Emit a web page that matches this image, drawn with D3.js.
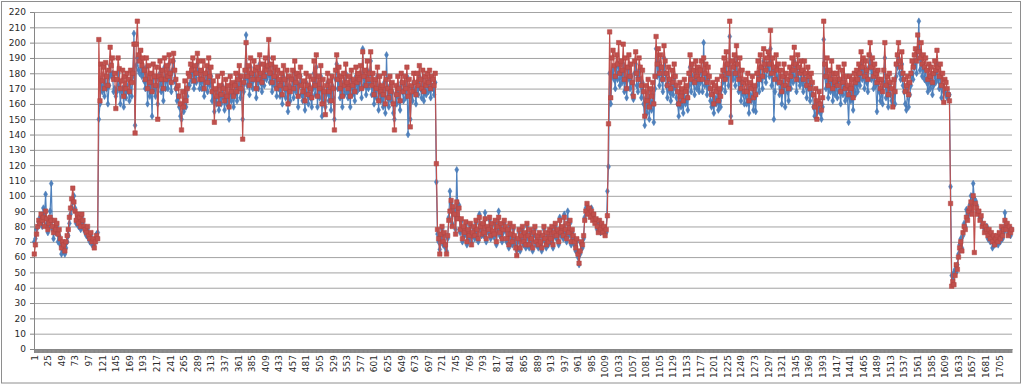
<!DOCTYPE html>
<html><head><meta charset="utf-8">
<script src="https://cdn.jsdelivr.net/npm/d3@7"></script>
<style>body{margin:0;background:#fff}svg{display:block}</style>
</head><body><svg id="c" width="1024" height="385"></svg>
<script>
// ---- data ----
const N_CATEGORIES = 1727;          // categories are 1..1727
const categories = d3.range(1, N_CATEGORIES + 1);
const sampleStep = 2;               // series values read at categories 1,3,5,...
const yTicks = d3.range(0, 221, 10);
const xLabelCats = categories.filter(c => (c - 1) % 24 === 0);

const blue = [
70,72,78,80,83,86,85,80,92,88,101,82,76,80,90,108,78,72,80,76,80,70,74,68,62,66,64,62,66,70,74,82,88,92,96,100,92,82,86,80,84,78,86,82,78,76,74,78,72,70,74,68,70,68,72,75,76,
150,160,176,168,172,165,178,170,160,172,185,178,180,168,170,165,168,180,172,160,168,170,158,172,164,172,168,162,175,165,
178,206,146,185,190,182,180,188,178,184,175,170,184,160,176,165,172,152,178,170,165,176,160,172,180,168,175,162,184,170,
178,170,186,175,168,182,188,175,170,162,165,158,152,150,160,155,168,158,165,172,172,180,175,184,170,178,174,186,180,170,
176,170,180,165,174,178,168,183,172,178,162,168,155,164,160,170,156,166,160,172,164,156,170,160,166,150,172,162,168,158,
166,174,162,170,178,164,172,150,168,176,205,172,178,166,184,174,170,180,176,164,178,170,186,174,168,180,172,184,176,178,
190,174,180,168,184,172,178,165,176,170,165,174,160,178,170,164,176,155,172,162,170,176,164,180,168,174,158,172,178,166,
162,168,156,174,166,160,172,164,158,170,180,166,184,158,172,164,178,152,170,162,158,166,174,162,170,156,172,164,150,176,
186,170,178,164,172,158,174,166,180,168,164,172,158,176,166,170,162,178,168,174,170,180,164,196,172,176,166,182,170,174,
188,166,174,160,170,164,178,156,172,162,166,158,174,154,192,164,158,172,162,168,154,150,166,160,172,164,156,174,168,162,
172,164,178,140,170,150,166,162,174,168,160,174,166,178,170,164,176,162,172,166,174,168,176,164,172,170,166,174,
109,
75,70,65,73,78,68,74,66,64,72,86,103,95,82,92,90,78,117,88,94,76,83,70,78,74,81,68,76,72,80,
70,74,78,72,82,76,70,88,78,74,80,74,89,70,78,76,84,72,80,75,73,82,68,78,90,74,80,70,76,82,
78,70,76,66,80,73,68,78,72,68,64,70,76,64,72,78,68,74,66,80,72,66,76,70,64,74,78,68,72,66,
74,68,64,72,78,70,66,74,68,76,70,78,66,74,80,72,76,68,86,74,78,72,88,76,70,90,74,82,68,76,
72,68,64,70,60,55,62,68,66,72,86,92,94,90,90,88,92,86,86,84,82,78,78,82,76,80,78,78,76,76,
103,119,
180,160,178,182,176,170,184,176,186,172,180,174,186,168,182,164,176,184,170,178,166,163,180,186,172,168,182,176,164,174,
160,146,164,154,168,150,162,156,166,148,170,196,178,188,172,184,176,168,190,180,172,164,176,168,162,174,166,178,170,164,
160,152,166,158,162,154,168,160,164,156,172,184,168,178,174,166,180,170,176,168,174,180,168,200,172,178,166,176,170,162,
158,166,154,164,160,168,156,162,158,170,174,182,168,186,178,172,204,152,180,176,184,172,190,178,168,182,162,174,166,160,
168,160,172,154,166,162,170,156,164,155,172,180,168,184,176,170,188,178,174,182,186,178,196,172,182,150,168,184,174,178,
166,174,160,170,178,158,172,168,162,176,170,182,174,188,178,168,184,176,172,180,174,168,180,172,164,176,170,162,172,166,
158,152,162,154,156,160,154,150,158,202,178,170,182,164,174,168,180,162,172,166,172,164,176,168,160,174,166,178,162,170,
164,148,170,162,168,156,172,166,174,168,178,172,186,176,182,170,180,174,168,184,192,176,182,170,178,172,155,174,168,162,
168,160,174,190,164,170,158,172,166,162,160,168,160,178,184,190,180,176,186,172,168,160,156,170,158,166,172,180,176,184,
188,180,196,214,182,192,178,184,176,182,174,168,178,170,176,166,172,180,174,186,176,170,178,164,172,168,168,166,164,166,166,
106,
48,45,50,52,50,55,62,68,72,66,74,82,80,91,86,88,94,100,90,108,98,97,94,90,88,86,85,82,80,78,78,80,
72,76,70,74,66,72,68,70,72,68,74,70,78,72,76,89,80,80,76,78,74,78
];

const red = [
62,68,75,80,84,82,88,84,86,80,90,85,78,82,86,84,80,76,84,78,82,75,78,72,66,70,68,64,70,74,78,86,92,98,105,96,90,84,88,82,86,80,88,84,80,78,76,80,74,72,76,70,72,66,70,74,72,
202,162,186,175,184,170,187,178,172,182,197,185,190,176,180,157,176,190,183,170,175,182,165,178,170,180,176,168,182,174,
180,199,141,199,214,192,188,195,185,190,182,176,190,170,185,174,180,168,186,178,172,184,150,178,188,176,182,170,190,176,
185,178,192,180,174,188,193,182,176,170,172,165,160,143,168,158,175,162,170,180,178,186,182,190,175,185,180,193,188,176,
182,176,188,170,180,185,174,190,178,184,168,175,148,170,165,178,160,172,166,180,170,162,176,165,172,158,178,168,174,165,
172,180,168,176,185,170,178,137,174,182,200,178,185,172,190,180,176,188,182,170,184,176,192,180,174,186,178,190,182,185,
202,180,186,174,190,178,184,170,182,176,172,180,166,185,176,170,182,160,178,168,176,182,170,188,174,180,165,178,184,172,
168,175,162,180,172,166,178,170,164,176,188,172,192,165,178,170,185,160,176,168,153,172,180,168,175,162,178,170,143,182,
192,176,184,170,178,165,180,172,186,174,170,178,165,182,172,176,168,184,174,180,176,185,170,194,178,182,172,188,176,180,
194,172,180,166,176,170,184,162,178,168,172,166,180,160,176,170,164,178,168,174,160,143,172,166,178,170,162,180,174,168,
178,170,184,165,176,145,172,168,180,174,166,180,172,185,176,170,182,168,178,172,180,174,182,170,178,176,172,180,
121,
78,72,62,75,80,70,76,68,62,74,84,90,97,80,93,88,75,96,85,92,78,85,72,80,76,83,70,78,74,82,
68,76,80,74,84,78,72,86,80,75,82,76,85,72,80,78,86,74,82,77,75,84,70,80,86,76,82,72,78,84,
80,72,78,68,82,75,70,80,74,66,61,72,78,66,74,80,70,76,68,82,74,68,78,72,66,76,80,70,74,68,
76,70,66,74,80,72,68,76,70,78,72,80,68,76,82,74,78,70,84,76,80,74,86,78,72,82,76,84,70,78,
74,70,66,72,62,56,64,70,68,74,84,90,95,88,92,86,90,84,88,82,85,80,76,84,78,82,76,80,74,78,
87,147,
207,164,190,195,185,178,192,186,200,180,188,182,199,176,190,170,184,192,178,186,174,165,188,194,180,176,190,184,172,182,
168,152,172,162,176,158,170,165,174,160,178,204,186,196,180,192,184,176,198,188,180,172,184,176,170,182,174,186,178,172,
168,160,174,165,170,162,176,168,172,164,180,192,176,186,182,174,188,178,184,176,182,188,176,190,180,186,174,184,178,170,
166,174,160,172,168,176,162,170,165,178,182,190,176,194,186,180,214,148,188,184,192,180,198,186,176,190,170,182,174,168,
176,168,180,162,174,170,178,164,172,166,180,188,176,192,184,178,196,186,182,190,194,186,208,180,190,184,176,192,182,186,
174,182,168,178,186,172,180,176,170,184,178,190,182,197,186,176,192,184,180,188,182,176,188,180,172,184,178,170,180,174,
166,158,170,150,162,168,160,156,164,214,186,178,190,172,182,176,188,170,180,174,180,172,184,176,168,182,174,186,170,178,
172,166,178,170,176,164,180,174,182,176,186,180,194,184,190,178,188,182,176,192,200,184,190,178,186,180,174,182,176,170,
176,168,182,200,172,178,166,180,174,170,158,176,168,186,192,200,188,184,194,180,176,168,172,178,166,174,180,188,184,192,
196,188,205,194,190,200,186,192,184,190,182,176,186,178,184,174,180,188,182,195,184,178,186,172,180,161,176,174,170,166,162,
95,
41,44,42,48,55,52,60,66,70,64,76,80,78,86,84,90,92,96,88,100,63,95,92,88,90,84,87,80,82,76,80,78,
74,78,72,76,70,74,68,72,74,70,76,72,80,74,78,84,78,82,74,80,76,78
];

// ---- layout ----
const svg = d3.select('#c');
const plot = {l: 34, r: 1012, t: 12, b: 349};
const FONT = 'DejaVu Sans';

const x = d3.scaleBand().domain(categories).range([plot.l, plot.r]);
const cx = c => x(c) + x.bandwidth() / 2;
const y = d3.scaleLinear().domain([0, 220]).range([plot.b, plot.t]);

// outer chart border
svg.append('rect').attr('x', 1.5).attr('y', 1.5).attr('width', 1019).attr('height', 381.5)
  .attr('fill', '#fff').attr('stroke', '#8e8e8e').attr('stroke-width', 1);

// gridlines
const grid = svg.append('g').attr('transform', `translate(${plot.l},0)`)
  .call(d3.axisLeft(y).tickValues(yTicks).tickSize(-(plot.r - plot.l)).tickSizeOuter(0).tickFormat(''));
grid.select('.domain').remove();
grid.selectAll('line').attr('stroke', '#a3a3a3').attr('stroke-width', 1);

// y axis
const ya = svg.append('g').attr('transform', `translate(${plot.l},0)`)
  .call(d3.axisLeft(y).tickValues(yTicks).tickSize(4).tickSizeOuter(0).tickPadding(4));
ya.select('.domain').attr('stroke', '#868686');
ya.selectAll('line').attr('stroke', '#868686');
ya.selectAll('text').attr('font-family', FONT).attr('font-size', 9).attr('fill', '#2a2a2a');

// x axis: one tick per category (forms the dense band), then labels
const xt = svg.append('g').attr('transform', `translate(0,${plot.b})`)
  .call(d3.axisBottom(x).tickValues(categories).tickSize(4).tickSizeOuter(0).tickFormat(''));
xt.select('.domain').attr('stroke', '#868686');
xt.selectAll('line').attr('stroke', '#888888');

const xl = svg.append('g').attr('transform', `translate(0,${plot.b})`)
  .call(d3.axisBottom(x).tickValues(xLabelCats).tickSize(0).tickSizeOuter(0));
xl.select('.domain').remove();
xl.selectAll('text')
  .attr('font-family', FONT).attr('font-size', 9).attr('fill', '#2a2a2a')
  .attr('transform', 'rotate(-90)')
  .attr('x', -6).attr('y', 0).attr('dy', '0.35em')
  .style('text-anchor', 'end');

// series
const series = [
  {name: 'blue', values: blue, color: '#4f81bd', stroke: '#4577b3', sym: d3.symbolDiamond, size: 13},
  {name: 'red', values: red, color: '#c0504d', stroke: '#b04441', sym: d3.symbolSquare, size: 20}
];
const line = d3.line().x((d, i) => cx(1 + i * sampleStep)).y(d => y(d));

series.forEach(s => {
  const g = svg.append('g');
  g.append('path').datum(s.values).attr('d', line)
    .attr('fill', 'none').attr('stroke', s.color).attr('stroke-width', 1.2).attr('stroke-linejoin', 'round');
  g.selectAll('path.m').data(s.values).join('path').attr('class', 'm')
    .attr('transform', (d, i) => `translate(${cx(1 + i * sampleStep)},${y(d)})`)
    .attr('d', d3.symbol().type(s.sym).size(s.size))
    .attr('fill', s.color).attr('stroke', s.stroke).attr('stroke-width', 0.5);
});
</script>
</body></html>
